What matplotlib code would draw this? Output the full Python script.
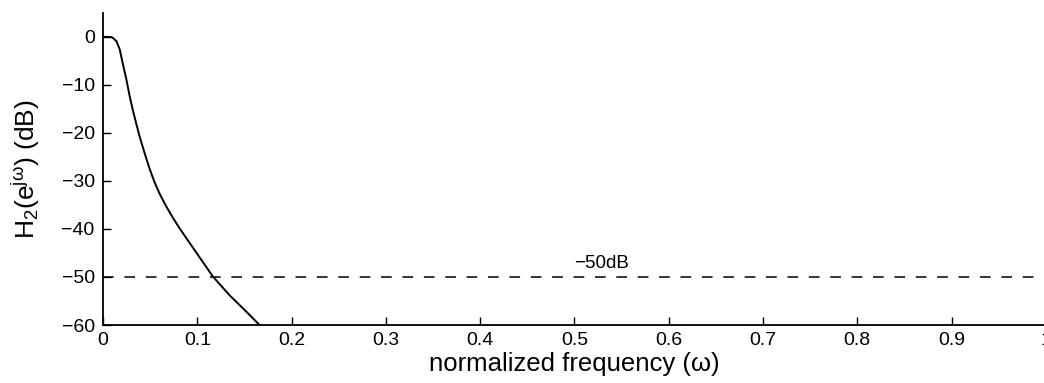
import matplotlib
matplotlib.use('Agg')
import matplotlib.pyplot as plt

# magnitude response
freq = [0.0, 0.006, 0.0099, 0.0142, 0.0177, 0.0212, 0.0248, 0.0283, 0.0318, 0.0354,
        0.0389, 0.0424, 0.0460, 0.0495, 0.0545, 0.0601, 0.0670, 0.0742, 0.0810,
        0.0883, 0.1024, 0.1165, 0.1342, 0.1519, 0.166, 0.20, 1.0]
mag_db = [0.0, 0.0, -0.1, -0.9, -2.6, -5.8, -8.9, -12.4, -15.4, -18.2,
          -20.8, -23.1, -25.4, -27.5, -30.2, -32.7, -35.3, -37.7, -39.8,
          -41.9, -45.9, -49.9, -53.8, -57.2, -60.0, -66.0, -90.0]

ref_level = -50
ref_label = '\u221250dB'
xticks = [0, 0.1, 0.2, 0.3, 0.4, 0.5, 0.6, 0.7, 0.8, 0.9, 1]
xticklabels = ['0', '0.1', '0.2', '0.3', '0.4', '0.5', '0.6', '0.7', '0.8', '0.9', '1']
yticks = [0, -10, -20, -30, -40, -50, -60]

plt.rcParams['font.family'] = ['Liberation Sans', 'DejaVu Sans']
plt.rcParams['mathtext.fontset'] = 'custom'
plt.rcParams['mathtext.rm'] = 'Liberation Sans'
plt.rcParams['mathtext.it'] = 'Liberation Sans'

fig = plt.figure(figsize=(10.44, 3.83), dpi=100)
ax = fig.add_axes([0.0987, 0.1514, 0.903, 0.815])

ax.plot(freq, mag_db, color='black', linewidth=1.4)
ax.axhline(ref_level, color='black', linewidth=1.1, linestyle=(0, (7, 7)))
ax.text(0.5, ref_level + 1.0, ref_label, fontsize=13.5, ha='left', va='bottom')

ax.set_xlim(0, 1)
ax.set_ylim(-60, 5)
ax.set_xticks(xticks)
ax.set_xticklabels(xticklabels)
ax.set_yticks(yticks)
ax.set_yticklabels(['0'] + ['\u2212%d' % -v for v in yticks[1:]])
ax.tick_params(direction='in', length=6, width=1, labelsize=14)
ax.tick_params(axis='x', pad=5)
ax.tick_params(axis='y', pad=6)

for s in ['top', 'right']:
    ax.spines[s].set_visible(False)
ax.spines['left'].set_linewidth(1.3)
ax.spines['bottom'].set_linewidth(1.3)

ax.set_xlabel('normalized frequency (\u03c9)', fontsize=18.5, labelpad=2)
ax.set_ylabel(r'H$_2$(e$^{j\omega}$) (dB)', fontsize=19, labelpad=14)

fig.savefig('out.png', dpi=100)
